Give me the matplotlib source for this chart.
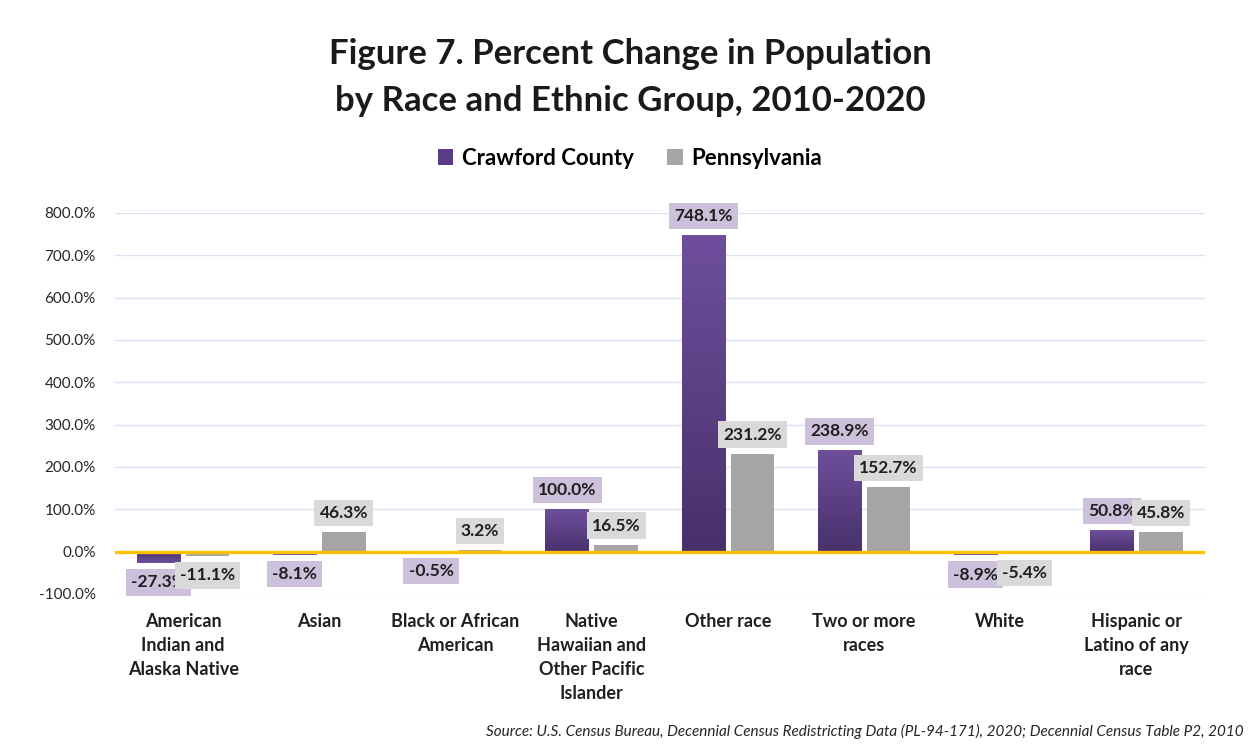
#!/usr/bin/env python3

import numpy as np
import matplotlib.pyplot as plt
from matplotlib.colors import LinearSegmentedColormap

plt.rcParams['font.family'] = ['Lato', 'DejaVu Sans']

# Data
categories = [
    "American\nIndian and\nAlaska Native",
    "Asian",
    "Black or African\nAmerican",
    "Native\nHawaiian and\nOther Pacific\nIslander",
    "Other race",
    "Two or more\nraces",
    "White",
    "Hispanic or\nLatino of any\nrace",
]
crawford = [-27.3, -8.1, -0.5, 100.0, 748.1, 238.9, -8.9, 50.8]
pennsylvania = [-11.1, 46.3, 3.2, 16.5, 231.2, 152.7, -5.4, 45.8]
yticks = [-100, 0, 100, 200, 300, 400, 500, 600, 700, 800]

purple_top = "#6f4f9c"
purple_bot = "#47306b"
gray = "#a6a6a6"
purple_box = "#ccc0da"
gray_box = "#d9d9d9"


def main():
    fig = plt.figure(figsize=(12.6, 7.46), dpi=100)
    ax = fig.add_axes([0.0913, 0.2038, 0.8647, 0.5107])

    x = np.arange(len(categories))
    w = 0.32
    off = 0.18

    # Purple bars with vertical gradient
    cmap = LinearSegmentedColormap.from_list("pur", [purple_bot, purple_top])
    grad = np.linspace(0, 1, 256).reshape(-1, 1)
    for xi, v in zip(x - off, crawford):
        lo, hi = min(0, v), max(0, v)
        img = grad if v >= 0 else grad[::-1]
        ax.imshow(img, cmap=cmap, aspect="auto", origin="lower",
                  extent=[xi - w / 2, xi + w / 2, lo, hi], zorder=2)
    ax.bar(x - off, crawford, width=w, color="none", edgecolor="none", zorder=2)
    ax.bar(x + off, pennsylvania, width=w, color=gray, zorder=2)

    # Zero line
    ax.axhline(0, color="#ffc000", lw=2.4, zorder=3)

    # Data labels
    def put_labels(xs, vals, box, z):
        for xi, v in zip(xs, vals):
            if v >= 0:
                dy, va = 8, "bottom"
            else:
                dy, va = -8, "top"
            ax.annotate(f"{v:.1f}%", (xi, v), xytext=(0, dy), textcoords="offset points",
                        ha="center", va=va, fontsize=12.5, fontweight="bold",
                        color="#1f1f1f", zorder=z,
                        bbox=dict(boxstyle="square,pad=0.3", fc=box, ec="none"))

    put_labels(x - off, crawford, purple_box, 5)
    put_labels(x + off, pennsylvania, gray_box, 6)

    ax.set_xlim(-0.5, len(categories) - 0.5)
    ax.set_ylim(-100, 800)
    ax.set_yticks(yticks)
    ax.set_yticklabels([f"{t:.1f}%" for t in yticks], fontsize=11, color="#262626")
    ax.set_xticks(x)
    ax.set_xticklabels(categories, fontsize=13, fontweight="bold", color="#1f1f1f",
                       linespacing=1.5, va="top")
    ax.tick_params(axis="both", length=0)
    ax.tick_params(axis="x", pad=14)
    ax.tick_params(axis="y", pad=14)
    ax.grid(axis="y", color="#dae3f3", lw=1, zorder=0)
    ax.set_axisbelow(True)
    for s in ax.spines.values():
        s.set_visible(False)

    # Title
    fig.text(0.5, 0.928, "Figure 7. Percent Change in Population", ha="center", va="center",
             fontsize=25, fontweight="bold", color="#1a1a1a")
    fig.text(0.5, 0.864, "by Race and Ethnic Group, 2010-2020", ha="center", va="center",
             fontsize=25, fontweight="bold", color="#1a1a1a")

    # Legend
    h1 = plt.Rectangle((0, 0), 1, 1, fc="#5a3d85")
    h2 = plt.Rectangle((0, 0), 1, 1, fc=gray)
    fig.legend([h1, h2], ["Crawford County", "Pennsylvania"], loc="center",
               bbox_to_anchor=(0.5, 0.788), ncol=2, frameon=False,
               prop={"size": 16, "weight": "bold"}, handlelength=0.7,
               handleheight=0.7, columnspacing=1.5, handletextpad=0.4)

    # Source
    fig.text(0.987, 0.01, "Source: U.S. Census Bureau, Decennial Census Redistricting Data "
             "(PL-94-171), 2020; Decennial Census Table P2, 2010",
             ha="right", va="bottom", fontsize=11, style="italic", color="#262626")

    fig.savefig("out.png", dpi=100)
    plt.close(fig)


if __name__ == "__main__":
    main()
